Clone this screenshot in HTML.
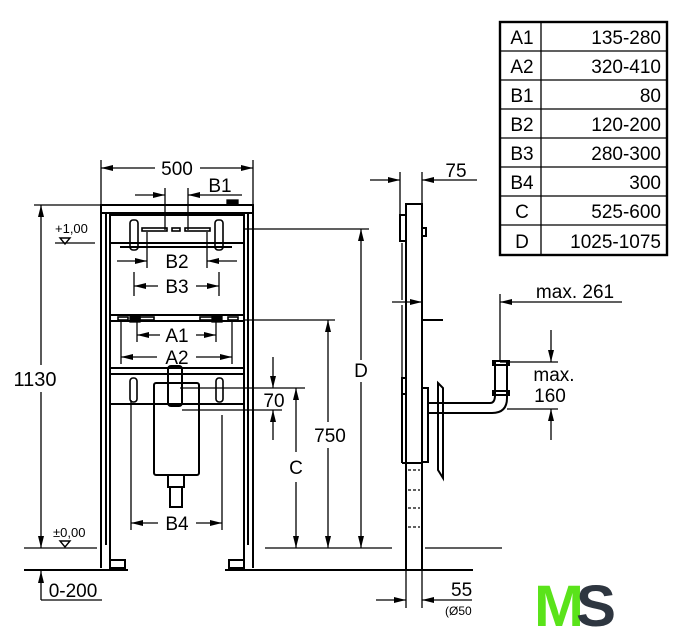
<!DOCTYPE html>
<html><head><meta charset="utf-8"><style>
html,body{margin:0;padding:0;background:#fff}
svg{display:block}
text{font-family:"Liberation Sans",sans-serif;fill:#000}
</style></head><body>
<svg width="687" height="640" viewBox="0 0 687 640" xmlns="http://www.w3.org/2000/svg">
<defs>
<marker id="a" viewBox="0 0 12 6" refX="12" refY="3" markerWidth="12" markerHeight="6" orient="auto" markerUnits="userSpaceOnUse"><path d="M0,0 L12,3 L0,6 z" fill="#000"/></marker>
</defs>
<g stroke="#000" fill="none" stroke-width="1.3">
<!-- table -->
<rect x="500" y="22" width="167" height="233" stroke-width="2.4"/>
<line x1="541" y1="22" x2="541" y2="255"/>
<line x1="500" y1="51" x2="667" y2="51"/><line x1="500" y1="80" x2="667" y2="80"/>
<line x1="500" y1="109" x2="667" y2="109"/><line x1="500" y1="138" x2="667" y2="138"/>
<line x1="500" y1="167" x2="667" y2="167"/><line x1="500" y1="196" x2="667" y2="196"/>
<line x1="500" y1="225" x2="667" y2="225"/>

<!-- front frame -->
<g stroke-width="2">
<rect x="101" y="205" width="152" height="8"/>
<line x1="101" y1="205" x2="101" y2="568"/><line x1="110" y1="213" x2="110" y2="568"/>
<line x1="253" y1="205" x2="253" y2="568"/><line x1="244" y1="213" x2="244" y2="568"/>
<line x1="106" y1="213" x2="106" y2="545"/><line x1="248" y1="213" x2="248" y2="545"/>
<rect x="110" y="560" width="15" height="8"/><rect x="229" y="560" width="15" height="8"/>
<rect x="110" y="215" width="134" height="28"/>
<line x1="120" y1="243" x2="232" y2="243"/><line x1="120" y1="247" x2="232" y2="247"/>
<rect x="110" y="315" width="134" height="6"/>
<rect x="110" y="368" width="134" height="6"/>
<rect x="110" y="374" width="134" height="30"/>
<rect x="154" y="383" width="45" height="92" rx="2"/>
<rect x="168" y="366" width="14" height="40" rx="3"/>
<rect x="168" y="475" width="16" height="12"/><rect x="170" y="487" width="12" height="20"/>
</g>
<g stroke-width="1.6">
<rect x="130" y="220" width="8" height="30" rx="3"/><rect x="215" y="220" width="8" height="30" rx="3"/>
<rect x="142" y="228" width="25" height="3"/><rect x="172" y="228" width="8" height="3"/><rect x="185" y="228" width="25" height="3"/>
<rect x="130" y="378" width="7" height="24" rx="3"/><rect x="216" y="378" width="7" height="24" rx="3"/>
<rect x="118" y="317" width="10" height="3"/><rect x="140" y="317" width="14" height="3"/><rect x="200" y="317" width="14" height="3"/><rect x="228" y="317" width="10" height="3"/>
</g>
<rect x="130" y="315" width="10" height="7" fill="#000"/><rect x="212" y="315" width="10" height="7" fill="#000"/>
<rect x="227" y="200" width="11" height="5" fill="#000"/>

<!-- dims front -->
<line x1="101" y1="160" x2="101" y2="205"/><line x1="253" y1="160" x2="253" y2="205"/>
<line x1="155" y1="168" x2="101" y2="168" marker-end="url(#a)"/><line x1="200" y1="168" x2="253" y2="168" marker-end="url(#a)"/>
<line x1="165" y1="188" x2="165" y2="230"/><line x1="188" y1="188" x2="188" y2="230"/>
<line x1="135" y1="195" x2="165" y2="195" marker-end="url(#a)"/><line x1="242" y1="195" x2="188" y2="195" marker-end="url(#a)"/>
<line x1="147" y1="232" x2="147" y2="268"/><line x1="207" y1="232" x2="207" y2="268"/>
<line x1="117" y1="261" x2="147" y2="261" marker-end="url(#a)"/><line x1="237" y1="261" x2="207" y2="261" marker-end="url(#a)"/>
<line x1="134" y1="272" x2="134" y2="296"/><line x1="219" y1="272" x2="219" y2="296"/>
<line x1="158" y1="286" x2="134" y2="286" marker-end="url(#a)"/><line x1="196" y1="286" x2="219" y2="286" marker-end="url(#a)"/>
<line x1="137" y1="322" x2="137" y2="342"/><line x1="216" y1="322" x2="216" y2="342"/>
<line x1="160" y1="335" x2="137" y2="335" marker-end="url(#a)"/><line x1="196" y1="335" x2="216" y2="335" marker-end="url(#a)"/>
<line x1="121" y1="322" x2="121" y2="364"/><line x1="232" y1="322" x2="232" y2="364"/>
<line x1="157" y1="357" x2="121" y2="357" marker-end="url(#a)"/><line x1="196" y1="357" x2="232" y2="357" marker-end="url(#a)"/>
<line x1="131" y1="400" x2="131" y2="530"/><line x1="222" y1="415" x2="222" y2="530"/>
<line x1="158" y1="523" x2="131" y2="523" marker-end="url(#a)"/><line x1="196" y1="523" x2="222" y2="523" marker-end="url(#a)"/>
<line x1="34" y1="205" x2="101" y2="205"/>
<line x1="41" y1="365" x2="41" y2="205" marker-end="url(#a)"/><line x1="41" y1="392" x2="41" y2="548" marker-end="url(#a)"/>
<line x1="55" y1="243" x2="95" y2="243"/>
<path d="M60,238 L70,238 L65,244 z" stroke-width="1.4"/>
<line x1="24" y1="548" x2="97" y2="548"/>
<path d="M60,541 L70,541 L65,547 z" stroke-width="1.4"/>
<line x1="265" y1="548" x2="392" y2="548"/>
<line x1="24" y1="570" x2="128" y2="570" stroke-width="2"/><line x1="225" y1="570" x2="392" y2="570" stroke-width="2"/>
<line x1="41" y1="600" x2="41" y2="571" marker-end="url(#a)"/><line x1="41" y1="600" x2="102" y2="600"/>
<line x1="244" y1="229" x2="369" y2="229"/>
<line x1="361" y1="360" x2="361" y2="229" marker-end="url(#a)"/><line x1="361" y1="382" x2="361" y2="548" marker-end="url(#a)"/>
<line x1="244" y1="320" x2="335" y2="320"/>
<line x1="328" y1="422" x2="328" y2="320" marker-end="url(#a)"/><line x1="328" y1="448" x2="328" y2="548" marker-end="url(#a)"/>
<line x1="180" y1="388" x2="305" y2="388"/><line x1="182" y1="410" x2="282" y2="410"/>
<line x1="273" y1="357" x2="273" y2="388" marker-end="url(#a)"/><line x1="273" y1="440" x2="273" y2="410" marker-end="url(#a)"/>
<line x1="296" y1="452" x2="296" y2="388" marker-end="url(#a)"/><line x1="296" y1="482" x2="296" y2="548" marker-end="url(#a)"/>

<!-- side view -->
<g stroke-width="2">
<rect x="406" y="204" width="16" height="366"/>
<rect x="400" y="215" width="6" height="26"/>
<rect x="422" y="228" width="4" height="8"/>
<line x1="422" y1="320" x2="443" y2="320"/>
<rect x="402" y="378" width="4" height="16"/>
<line x1="402" y1="394" x2="402" y2="463"/><line x1="402" y1="463" x2="422" y2="463"/>
<rect x="422" y="388" width="6" height="74"/>
<path d="M438,383 L443,388 L443,478 L438,470 z"/>
<path d="M428,403 L490,403 Q495,403 495,395 L495,362 M428,413 L492,413 Q507,413 507,398 L507,362"/>
<rect x="493" y="361" width="16" height="4"/><rect x="493" y="391" width="16" height="4"/>
</g>
<line x1="402" y1="243" x2="402" y2="300"/><line x1="402" y1="305" x2="402" y2="378"/>
<path d="M408,470 L420,470 M408,490 L420,490 M408,508 L420,508 M408,527 L420,527" stroke-dasharray="3,2"/>
<line x1="400" y1="172" x2="400" y2="215"/><line x1="422" y1="172" x2="422" y2="204"/>
<line x1="370" y1="180" x2="400" y2="180" marker-end="url(#a)"/><line x1="477" y1="180" x2="422" y2="180" marker-end="url(#a)"/>
<line x1="392" y1="302" x2="422" y2="302" marker-end="url(#a)"/>
<line x1="425" y1="548" x2="502" y2="548"/>
<line x1="340" y1="570" x2="473" y2="570" stroke-width="2"/>
<line x1="406" y1="570" x2="406" y2="608"/><line x1="422" y1="570" x2="422" y2="608"/>
<line x1="376" y1="600" x2="406" y2="600" marker-end="url(#a)"/><line x1="472" y1="600" x2="422" y2="600" marker-end="url(#a)"/>
<line x1="500" y1="294" x2="500" y2="362"/>
<line x1="622" y1="302" x2="500" y2="302" marker-end="url(#a)"/>
<line x1="500" y1="362" x2="558" y2="362"/><line x1="507" y1="409" x2="558" y2="409"/>
<line x1="551" y1="330" x2="551" y2="362" marker-end="url(#a)"/><line x1="551" y1="440" x2="551" y2="409" marker-end="url(#a)"/>
</g>
<g font-size="19">
<text x="522" y="44" text-anchor="middle">A1</text><text x="661" y="44" text-anchor="end">135-280</text>
<text x="522" y="73" text-anchor="middle">A2</text><text x="661" y="73" text-anchor="end">320-410</text>
<text x="522" y="102" text-anchor="middle">B1</text><text x="661" y="102" text-anchor="end">80</text>
<text x="522" y="131" text-anchor="middle">B2</text><text x="661" y="131" text-anchor="end">120-200</text>
<text x="522" y="160" text-anchor="middle">B3</text><text x="661" y="160" text-anchor="end">280-300</text>
<text x="522" y="189" text-anchor="middle">B4</text><text x="661" y="189" text-anchor="end">300</text>
<text x="522" y="218" text-anchor="middle">C</text><text x="661" y="218" text-anchor="end">525-600</text>
<text x="522" y="248" text-anchor="middle">D</text><text x="661" y="248" text-anchor="end">1025-1075</text>
<text x="177" y="175" text-anchor="middle">500</text>
<text x="220" y="192" text-anchor="middle">B1</text>
<text x="177" y="268" text-anchor="middle">B2</text>
<text x="177" y="293" text-anchor="middle">B3</text>
<text x="177" y="342" text-anchor="middle">A1</text>
<text x="177" y="364" text-anchor="middle">A2</text>
<text x="177" y="530" text-anchor="middle">B4</text>
<text x="35" y="386" text-anchor="middle" font-size="20">1130</text>
<text x="361" y="377" text-anchor="middle">D</text>
<text x="330" y="442" text-anchor="middle">750</text>
<text x="274" y="407" text-anchor="middle">70</text>
<text x="296" y="474" text-anchor="middle">C</text>
<text x="73" y="597" text-anchor="middle">0-200</text>
<text x="456" y="177" text-anchor="middle">75</text>
<text x="575" y="298" text-anchor="middle">max. 261</text>
<text x="554" y="381" text-anchor="middle">max.</text>
<text x="550" y="402" text-anchor="middle">160</text>
<text x="451" y="596">55</text>
</g>
<text x="55" y="233" font-size="13">+1,00</text>
<text x="53" y="537" font-size="13">±0,00</text>
<svg x="440" y="600" width="33" height="20"><text x="5" y="15" font-size="12">(Ø50</text></svg>
<text x="534" y="626" font-size="58" font-weight="bold" style="fill:#5ae31a" textLength="50" lengthAdjust="spacingAndGlyphs">M</text>
<text x="576" y="626" font-size="58" font-weight="bold" style="fill:#2e3640" textLength="40" lengthAdjust="spacingAndGlyphs">S</text>
</svg>
</body></html>
